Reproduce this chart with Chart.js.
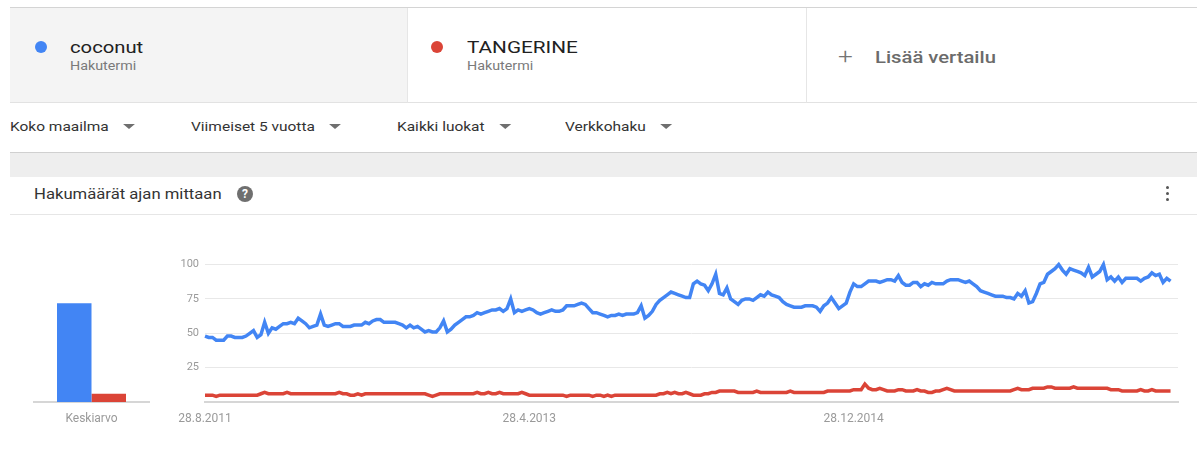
<!DOCTYPE html>
<html>
<head>
<meta charset="utf-8">
<script src="https://cdn.jsdelivr.net/npm/chart.js@4.4.1/dist/chart.umd.min.js"></script>
<style>
    body { margin: 0; width: 1197px; height: 450px; overflow: hidden; background: #fff;
           font-family: Roboto, "Noto Sans", sans-serif; position: relative; }
    .abs { position: absolute; }
    .wide { transform: scaleX(1.19); transform-origin: left center; white-space: nowrap; }
    .topline { left: 10px; top: 7px; width: 1187px; height: 1px; background: #d4d4d4; }
    .card { top: 8px; height: 94px; border-bottom: 1px solid #e2e2e2; }
    .dot { width: 12px; height: 12px; border-radius: 50%; top: 41px; }
    .term { top: 37px; font-size: 17px; color: #212121; }
    .sub { top: 59px; font-size: 12px; color: #7a7a7a; }
    .filter { top: 119px; font-size: 13px; color: #333; }
    .arrow { display: inline-block; width: 0; height: 0; border-left: 5px solid transparent;
             border-right: 5px solid transparent; border-top: 5px solid #6f6f6f; margin-left: 12px;
             vertical-align: middle; position: relative; top: -1px; }
</style>
</head>
<body>
<div class="abs topline"></div>
<div class="abs card" style="left:10px;width:397px;background:#f4f4f4;"></div>
<div class="abs card" style="left:407px;width:398px;border-left:1px solid #e6e6e6;"></div>
<div class="abs card" style="left:806px;width:391px;border-left:1px solid #e6e6e6;"></div>

<div class="abs dot" style="left:35px;background:#4285f4;"></div>
<div class="abs term wide" style="left:70px;">coconut</div>
<div class="abs sub wide" style="left:70px;">Hakutermi</div>
<div class="abs dot" style="left:431px;background:#db4437;"></div>
<div class="abs term wide" style="left:467px;transform:scaleX(1.22);">TANGERINE</div>
<div class="abs sub wide" style="left:467px;">Hakutermi</div>
<div class="abs wide" style="left:838px;top:44px;font-size:22px;color:#757575;font-weight:300;">+</div>
<div class="abs wide" style="left:875px;top:47px;font-size:17px;color:#6b6b6b;font-weight:500;">Lisää vertailu</div>

<div class="abs filter wide" style="left:10px;">Koko maailma<span class="arrow"></span></div>
<div class="abs filter wide" style="left:191px;">Viimeiset 5 vuotta<span class="arrow"></span></div>
<div class="abs filter wide" style="left:397px;">Kaikki luokat<span class="arrow"></span></div>
<div class="abs filter wide" style="left:565px;">Verkkohaku<span class="arrow"></span></div>

<div class="abs" style="left:10px;top:152px;width:1187px;height:1px;background:#d0d0d0;"></div>
<div class="abs" style="left:10px;top:153px;width:1187px;height:24px;background:#eeeeee;"></div>
<div class="abs wide" style="left:34px;top:186px;font-size:14px;color:#333;">Hakumäärät ajan mittaan</div>
<div class="abs" style="left:237px;top:186px;width:16px;height:16px;border-radius:50%;background:#6f6f6f;color:#fff;font-size:12px;font-weight:700;text-align:center;line-height:16px;">?</div>
<div class="abs" style="left:1166px;top:186px;width:3px;height:16px;">
    <div style="width:3px;height:3px;border-radius:50%;background:#555;margin-bottom:3px;"></div>
    <div style="width:3px;height:3px;border-radius:50%;background:#555;margin-bottom:3px;"></div>
    <div style="width:3px;height:3px;border-radius:50%;background:#555;"></div>
</div>
<div class="abs" style="left:10px;top:214px;width:1187px;height:1px;background:#e6e6e6;"></div>

<canvas id="avgBarChart" class="abs" style="left:20px;top:255px;" width="145" height="170"></canvas>
<canvas id="trendLineChart" class="abs" style="left:160px;top:252px;" width="1037" height="173"></canvas>

<script>
// -----------------------
// データ（週ごと, 28.8.2011 から）
// -----------------------
const coconutValues = [
    48, 47, 47, 45, 45, 45, 48, 48, 47, 47,
    47, 48, 50, 52, 47, 49, 58, 50, 54, 53,
    55, 57, 57, 58, 57, 61, 59, 57, 54, 55,
    56, 64, 56, 55, 56, 57, 57, 55, 55, 55,
    56, 56, 56, 58, 57, 59, 60, 60, 58, 58,
    58, 58, 57, 56, 54, 56, 54, 55, 53, 51,
    52, 51, 51, 54, 59, 51, 53, 56, 58, 60,
    62, 62, 63, 65, 64, 65, 66, 67, 67, 68,
    66, 68, 75, 65, 67, 66, 67, 68, 67, 65,
    64, 65, 66, 67, 66, 66, 67, 70, 70, 70,
    71, 72, 71, 68, 65, 65, 64, 63, 62, 63,
    63, 64, 63, 64, 64, 64, 65, 70, 61, 63,
    66, 71, 74, 76, 78, 80, 79, 78, 77, 76,
    76, 86, 88, 86, 85, 81, 86, 93, 79, 78,
    83, 75, 73, 71, 74, 75, 75, 74, 76, 78,
    77, 80, 78, 77, 76, 73, 71, 70, 69, 69,
    69, 70, 70, 70, 69, 66, 70, 72, 76, 72,
    68, 70, 72, 80, 86, 84, 84, 86, 88, 88,
    88, 87, 88, 89, 89, 88, 92, 87, 85, 85,
    87, 87, 84, 86, 85, 87, 86, 86, 86, 88,
    89, 89, 89, 88, 87, 88, 86, 84, 81, 80,
    79, 78, 77, 77, 77, 76, 76, 75, 79, 77,
    81, 72, 73, 79, 86, 87, 93, 95, 97, 100,
    96, 93, 97, 96, 95, 94, 92, 98, 91, 93,
    95, 100, 89, 91, 88, 91, 87, 90, 90, 90,
    90, 88, 90, 91, 94, 92, 93, 87, 90, 88
];
const tangerineValues = [
    5, 5, 5, 4, 5, 5, 5, 5, 5, 5,
    5, 5, 5, 5, 5, 6, 7, 6, 6, 6,
    6, 6, 7, 6, 6, 6, 6, 6, 6, 6,
    6, 6, 6, 6, 6, 6, 7, 6, 6, 5,
    5, 6, 5, 6, 6, 6, 6, 6, 6, 6,
    6, 6, 6, 6, 6, 6, 6, 6, 6, 6,
    5, 4, 5, 6, 6, 6, 6, 6, 6, 6,
    6, 6, 6, 7, 6, 6, 7, 6, 6, 7,
    6, 6, 6, 6, 6, 7, 6, 5, 5, 5,
    5, 5, 5, 5, 5, 5, 5, 4, 5, 5,
    5, 5, 5, 5, 4, 5, 5, 4, 5, 4,
    5, 5, 5, 5, 5, 5, 5, 5, 5, 5,
    5, 5, 6, 6, 7, 6, 7, 6, 6, 7,
    6, 5, 5, 5, 6, 6, 7, 7, 8, 8,
    8, 8, 8, 7, 7, 7, 7, 7, 8, 7,
    7, 7, 7, 7, 7, 7, 7, 8, 7, 7,
    7, 7, 7, 7, 7, 7, 7, 8, 8, 8,
    8, 8, 8, 8, 9, 9, 9, 13, 10, 9,
    9, 10, 9, 8, 8, 8, 9, 9, 8, 8,
    8, 9, 8, 8, 7, 7, 8, 8, 9, 10,
    9, 8, 8, 8, 8, 8, 8, 8, 8, 8,
    8, 8, 8, 8, 8, 8, 8, 9, 10, 9,
    9, 9, 10, 10, 10, 10, 11, 11, 10, 10,
    10, 10, 10, 11, 10, 10, 10, 10, 10, 10,
    10, 10, 10, 9, 9, 9, 8, 8, 8, 8,
    8, 9, 8, 8, 9, 8, 8, 8, 8, 8
];
const xTickWeeks = [0, 87, 174];
const xTickLabels = ["28.8.2011", "28.4.2013", "28.12.2014"];
const yTickValues = [0, 25, 50, 75, 100];

const averageLabels = ["Keskiarvo"];
const coconutAverage = [71];
const tangerineAverage = [6];

const BLUE = "#4285f4";
const RED = "#db4437";

// -----------------------
// 平均値の棒グラフ
// -----------------------
(function () {
    const ctx = document.getElementById("avgBarChart");
    if (!ctx) return;

    new Chart(ctx.getContext("2d"), {
        type: "bar",
        data: {
            labels: averageLabels,
            datasets: [
                { label: "coconut", data: coconutAverage, backgroundColor: BLUE },
                { label: "TANGERINE", data: tangerineAverage, backgroundColor: RED }
            ]
        },
        options: {
            responsive: false,
            animation: false,
            categoryPercentage: 0.6,
            barPercentage: 1.0,
            layout: { padding: { left: 14, right: 16, top: 8, bottom: 0 } },
            plugins: { legend: { display: false }, tooltip: { enabled: false } },
            scales: {
                x: {
                    grid: { display: false },
                    border: { color: "#d6d6d6", width: 2 },
                    ticks: { color: "#9a9a9a", font: { family: "Roboto", size: 12 }, padding: 2 },
                    afterFit: s => { s.height = 23; }
                },
                y: { display: false, min: 0, max: 100 }
            }
        }
    });
})();

// -----------------------
// 検索数の推移（折れ線）
// -----------------------
(function () {
    const ctx = document.getElementById("trendLineChart");
    if (!ctx) return;

    const toPoints = arr => arr.map((v, i) => ({ x: i, y: v }));

    new Chart(ctx.getContext("2d"), {
        type: "line",
        data: {
            datasets: [
                { label: "coconut", data: toPoints(coconutValues), borderColor: BLUE,
                  borderWidth: 3.5, pointRadius: 0, tension: 0, clip: false },
                { label: "TANGERINE", data: toPoints(tangerineValues), borderColor: RED,
                  borderWidth: 3.5, pointRadius: 0, tension: 0, clip: false }
            ]
        },
        options: {
            responsive: false,
            animation: false,
            layout: { padding: { left: 0, right: 19, top: 1, bottom: 0 } },
            plugins: { legend: { display: false }, tooltip: { enabled: false } },
            scales: {
                x: {
                    type: "linear",
                    min: 0,
                    max: 261,
                    grid: { display: false },
                    border: { color: "#d6d6d6", width: 2 },
                    afterBuildTicks: axis => { axis.ticks = xTickWeeks.map(v => ({ value: v })); },
                    ticks: {
                        color: "#9a9a9a",
                        font: { family: "Roboto", size: 12 },
                        padding: 2,
                        maxRotation: 0,
                        callback: v => xTickLabels[xTickWeeks.indexOf(v)]
                    },
                    afterFit: s => { s.height = 23; }
                },
                y: {
                    min: 0,
                    max: 100,
                    border: { display: false },
                    grid: { color: "#e8e8e8", lineWidth: 1, drawTicks: false },
                    afterBuildTicks: axis => { axis.ticks = yTickValues.map(v => ({ value: v })); },
                    ticks: {
                        color: "#9a9a9a",
                        font: { family: "Roboto", size: 11 },
                        padding: 6,
                        callback: v => (v === 0 ? "" : v)
                    },
                    afterFit: s => { s.width = 45; }
                }
            }
        }
    });
})();
</script>
</body>
</html>
